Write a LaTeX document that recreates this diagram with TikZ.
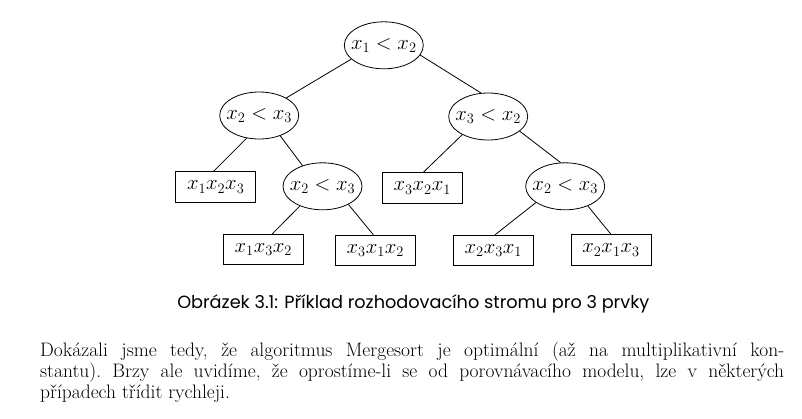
\documentclass[tikz,border=0pt]{standalone}
\usepackage{fontspec}
\newfontfamily\capfont{Poppins}
\usetikzlibrary{shapes.geometric}
\tikzset{
  cmp/.style={draw, ellipse, line width=0.8pt, minimum width=79pt, minimum height=47pt, inner xsep=-5pt, inner ysep=0pt, font=\fontsize{19.8}{23}\selectfont},
  leaf/.style={draw, rectangle, line width=0.8pt, minimum width=80pt, minimum height=30.5pt, inner sep=0pt, font=\fontsize{19.8}{23}\selectfont},
  edge/.style={line width=0.8pt},
  para/.style={anchor=base west, inner sep=0pt, font=\fontsize{19.5}{21}\selectfont\frenchspacing},
}
\begin{document}
\begin{tikzpicture}[x=1pt,y=-1pt]
\useasboundingbox (0,0) rectangle (802,418);
\node[cmp] (root) at (383.8,45.3) {$x_1 < x_2$};
\node[cmp] (L) at (259.2,115.5) {$x_2 < x_3$};
\node[cmp] (R) at (488.2,116.5) {$x_3 < x_2$};
\node[leaf] (b123) at (215.7,187) {$x_1x_2x_3$};
\node[cmp] (L2) at (322.5,186.3) {$x_2 < x_3$};
\node[leaf] (b321) at (422.2,188) {$x_3x_2x_1$};
\node[cmp] (R2) at (565.2,186.3) {$x_2 < x_3$};
\node[leaf] (b132) at (263.3,249.5) {$x_1x_3x_2$};
\node[leaf] (b312) at (375.3,250.5) {$x_3x_1x_2$};
\node[leaf] (b231) at (493.3,250.5) {$x_2x_3x_1$};
\node[leaf] (b213) at (611,250) {$x_2x_1x_3$};
\draw[edge] (root.-157) -- (L.33);
\draw[edge] (root.-15) -- (R.107);
\draw[edge] (L.-119) -- (b123.98);
\draw[edge] (L.-44) -- (L2.134);
\draw[edge] (L2.-139) -- (b132.60);
\draw[edge] (L2.-35) -- (b312.97);
\draw[edge] (R.-145) -- (b321.86);
\draw[edge] (R.-25) -- (R2.101);
\draw[edge] (R2.-151) -- (b231.84);
\draw[edge] (R2.-41) -- (b213.90);
\node[anchor=base, inner sep=0pt, font=\capfont\fontsize{17.7}{20}\selectfont] (cap) at (413.3,308) {Obrázek 3.1: Příklad rozhodovacího stromu pro 3 prvky};
\node[para] (p1) at (40,356.7) {\makebox[744pt][s]{Dokázali jsme tedy, že algoritmus Mergesort je optimální (až na multiplikativní kon-}};
\node[para] (p2) at (40,377.7) {\makebox[744pt][s]{stantu). Brzy ale uvidíme, že oprostíme-li se od porovnávacího modelu, lze v některých}};
\node[para] (p3) at (40,398.3) {případech třídit rychleji.};
\end{tikzpicture}
\end{document}
